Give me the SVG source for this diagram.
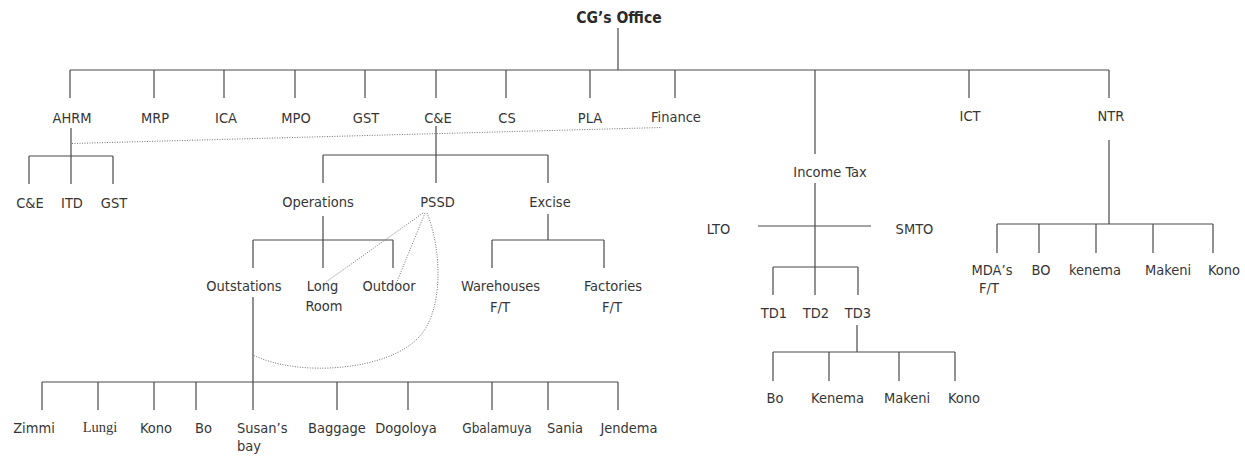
<svg xmlns="http://www.w3.org/2000/svg" width="1245" height="458" viewBox="0 0 1245 458">
  <style>
    text { font-family: "DejaVu Sans Condensed", "DejaVu Sans", sans-serif; font-stretch: condensed; font-size: 14.5px; fill: #363636; text-anchor: middle; }
    .title { font-weight: bold; font-size: 15.5px; fill: #2a2a2a; }
    .serif { font-family: "Liberation Serif", serif; font-stretch: normal; font-size: 14.5px; }
    .small { font-size: 13.5px; }
    .left { text-anchor: start; }
    .solid { fill: none; stroke: #4a4a4a; stroke-width: 1.2; }
    .dots { fill: none; stroke: #707070; stroke-width: 1; stroke-dasharray: 1 1.5; }
  </style>
  <rect width="1245" height="458" fill="#fff"/>

  <g id="connectors">
    <!-- CG's Office to first level -->
    <path class="solid" d="M618,28 V70 M70,70 H1109
      M70,70 V98 M154,70 V98 M224,70 V98 M295,70 V98 M365,70 V98
      M436,70 V98 M506,70 V98 M590,70 V98 M675,70 V98 M969,70 V98 M1109,70 V98
      M815,70 V154"/>
    <!-- AHRM -->
    <path class="solid" d="M71,128 V156 M29,156 H113 M29,156 V184 M71,156 V184 M113,156 V184"/>
    <!-- C&E -->
    <path class="solid" d="M436,126 V155 M323,155 H548 M323,155 V183 M436,155 V183 M548,155 V183"/>
    <!-- Operations -->
    <path class="solid" d="M323,216 V240 M253,240 H393 M253,240 V268 M323,240 V268 M393,240 V268"/>
    <!-- Excise -->
    <path class="solid" d="M548,214 V240 M492,240 H604 M492,240 V268 M604,240 V268"/>
    <!-- Outstations -->
    <path class="solid" d="M253,297 V410 M42,382 H618
      M42,382 V410 M98,382 V410 M154,382 V410 M196,382 V410 M337,382 V410
      M408,382 V410 M492,382 V410 M548,382 V410 M618,382 V410"/>
    <!-- Income Tax -->
    <path class="solid" d="M815,183 V295 M758,226 H871 M773,267 H858 M773,267 V295 M858,267 V295"/>
    <!-- TD3 -->
    <path class="solid" d="M857,325 V352 M773,352 H955 M773,352 V381 M829,352 V381 M899,352 V381 M955,352 V381"/>
    <!-- NTR -->
    <path class="solid" d="M1109,140 V224 M997,224 H1213
      M997,224 V253 M1039,224 V253 M1096,224 V253 M1153,224 V253 M1213,224 V253"/>
    <!-- dotted links -->
    <path class="dots" d="M72,143.5 L662,127.5"/>
    <path class="dots" d="M423,213 L326,282 M425,213 L396,284"/>
    <path class="dots" d="M427,213 C442,250 444,312 418,338 C388,370 300,378 253,355"/>
  </g>

  <g id="cg-office"><text class="title" x="619" y="23">CG’s Office</text></g>

  <g id="ahrm"><text x="72" y="123">AHRM</text></g>
  <g id="mrp"><text x="155" y="123">MRP</text></g>
  <g id="ica"><text x="226" y="123">ICA</text></g>
  <g id="mpo"><text x="296" y="123">MPO</text></g>
  <g id="gst"><text x="366" y="123">GST</text></g>
  <g id="ce"><text x="438" y="123">C&amp;E</text></g>
  <g id="cs"><text x="507" y="123">CS</text></g>
  <g id="pla"><text x="590" y="123">PLA</text></g>
  <g id="finance"><text x="676" y="122">Finance</text></g>
  <g id="ict"><text x="970" y="121">ICT</text></g>
  <g id="ntr"><text x="1111" y="121">NTR</text></g>

  <g id="ahrm-ce"><text x="30" y="208">C&amp;E</text></g>
  <g id="ahrm-itd"><text x="72" y="208">ITD</text></g>
  <g id="ahrm-gst"><text x="114" y="208">GST</text></g>

  <g id="operations"><text x="318" y="207">Operations</text></g>
  <g id="pssd"><text x="437.5" y="207">PSSD</text></g>
  <g id="excise"><text x="550" y="207">Excise</text></g>

  <g id="outstations"><text x="244" y="291">Outstations</text></g>
  <g id="long-room"><text x="322.5" y="291">Long</text><text x="324" y="311">Room</text></g>
  <g id="outdoor"><text x="389" y="291">Outdoor</text></g>
  <g id="warehouses"><text x="500.5" y="291">Warehouses</text><text x="500" y="312">F/T</text></g>
  <g id="factories"><text x="613" y="291">Factories</text><text x="612" y="312">F/T</text></g>

  <g id="zimmi"><text x="34" y="433">Zimmi</text></g>
  <g id="lungi"><text class="serif" x="100" y="432">Lungi</text></g>
  <g id="kono-out"><text x="156" y="433">Kono</text></g>
  <g id="bo-out"><text x="203.5" y="433">Bo</text></g>
  <g id="susans-bay"><text class="left" x="237" y="433">Susan’s</text><text class="left" x="237" y="451">bay</text></g>
  <g id="baggage"><text x="337" y="433">Baggage</text></g>
  <g id="dogoloya"><text x="406" y="433">Dogoloya</text></g>
  <g id="gbalamuya"><text class="small" x="497" y="433">Gbalamuya</text></g>
  <g id="sania"><text x="565" y="433">Sania</text></g>
  <g id="jendema"><text x="629" y="433">Jendema</text></g>

  <g id="income-tax"><text x="830" y="177">Income Tax</text></g>
  <g id="lto"><text x="718.5" y="234">LTO</text></g>
  <g id="smto"><text x="914.5" y="234">SMTO</text></g>
  <g id="td1"><text x="774" y="318">TD1</text></g>
  <g id="td2"><text x="816" y="318">TD2</text></g>
  <g id="td3"><text x="858" y="318">TD3</text></g>
  <g id="bo-td"><text x="775" y="403">Bo</text></g>
  <g id="kenema-td"><text x="837.5" y="403">Kenema</text></g>
  <g id="makeni-td"><text x="907" y="403">Makeni</text></g>
  <g id="kono-td"><text x="964" y="403">Kono</text></g>

  <g id="mdas"><text x="992" y="275">MDA’s</text><text x="989" y="293">F/T</text></g>
  <g id="bo-ntr"><text x="1041" y="275">BO</text></g>
  <g id="kenema-ntr"><text x="1095" y="275">kenema</text></g>
  <g id="makeni-ntr"><text x="1168" y="275">Makeni</text></g>
  <g id="kono-ntr"><text x="1224" y="275">Kono</text></g>
</svg>
